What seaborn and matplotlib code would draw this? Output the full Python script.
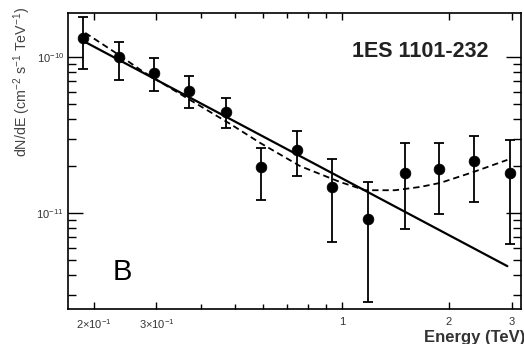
import numpy as np
import matplotlib
matplotlib.use("Agg")
import matplotlib.pyplot as plt
import seaborn as sns
from matplotlib.ticker import FixedLocator, FixedFormatter, NullFormatter

# ---- data ----
energy = [0.186, 0.235, 0.295, 0.371, 0.471, 0.591, 0.747, 0.937, 1.18, 1.50, 1.88, 2.35, 2.97]
flux = [1.32e-10, 1.0e-10, 7.9e-11, 6.05e-11, 4.44e-11, 1.97e-11, 2.54e-11,
        1.47e-11, 9.2e-12, 1.80e-11, 1.91e-11, 2.16e-11, 1.80e-11]
flux_hi = [1.80e-10, 1.25e-10, 9.9e-11, 7.55e-11, 5.46e-11, 2.61e-11, 3.36e-11,
           2.22e-11, 1.58e-11, 2.81e-11, 2.81e-11, 3.12e-11, 2.94e-11]
flux_lo = [8.4e-11, 7.1e-11, 6.05e-11, 4.7e-11, 3.5e-11, 1.21e-11, 1.73e-11,
           6.5e-12, 2.7e-12, 7.9e-12, 9.9e-12, 1.18e-11, 6.3e-12]

# power-law fit (solid line) end points
fit_energy = [0.183, 2.92]
fit_flux = [1.294e-10, 4.57e-12]

# dashed model curve
model_energy = [0.189, 0.235, 0.273, 0.373, 0.484, 0.588, 0.761, 0.987,
                1.161, 1.41, 1.66, 1.89, 2.34, 2.92]
model_flux = [1.425e-10, 1.03e-10, 8.13e-11, 5.30e-11, 3.72e-11, 2.81e-11, 2.00e-11,
              1.58e-11, 1.40e-11, 1.40e-11, 1.47e-11, 1.56e-11, 1.83e-11, 2.19e-11]

xtick_vals = [0.2, 0.3, 1, 2, 3]
xtick_labels = [r"$2{\times}10^{-1}$", r"$3{\times}10^{-1}$", "1", "2", "3"]
xminor_vals = [0.4, 0.5, 0.6, 0.7, 0.8, 0.9]
ytick_vals = [1e-11, 1e-10]
ytick_labels = [r"$10^{-11}$", r"$10^{-10}$"]
yminor_vals = [3e-12, 4e-12, 5e-12, 6e-12, 7e-12, 8e-12, 9e-12,
               2e-11, 3e-11, 4e-11, 5e-11, 6e-11, 7e-11, 8e-11, 9e-11]

sns.set_style("ticks")
plt.rcParams["font.family"] = ["Liberation Sans", "DejaVu Sans"]
plt.rcParams["mathtext.default"] = "regular"

W, H = 524, 344
fig = plt.figure(figsize=(W / 100, H / 100), dpi=100)
ax = fig.add_axes([68 / W, 35 / H, 453 / W, 296 / H])
ax.set_xscale("log")
ax.set_yscale("log")

sns.lineplot(x=fit_energy, y=fit_flux, ax=ax, color="black", lw=1.6, zorder=3)
sns.lineplot(x=model_energy, y=model_flux, ax=ax, color="black", lw=1.3,
             linestyle=(0, (3.5, 2.2)), zorder=3)

f = np.array(flux)
ax.errorbar(energy, flux, yerr=[f - np.array(flux_lo), np.array(flux_hi) - f],
            fmt="none", ecolor="black", elinewidth=1.3, capsize=3.5, capthick=1.3, zorder=4)
sns.scatterplot(x=energy, y=flux, ax=ax, color="black", s=60, edgecolor="black",
                linewidth=0.5, zorder=5)

ax.set_xlim(0.169, 3.19)
ax.set_ylim(2.43e-12, 1.91e-10)

ax.xaxis.set_major_locator(FixedLocator(xtick_vals))
ax.xaxis.set_major_formatter(FixedFormatter(xtick_labels))
ax.xaxis.set_minor_locator(FixedLocator(xminor_vals))
ax.xaxis.set_minor_formatter(NullFormatter())
ax.yaxis.set_major_locator(FixedLocator(ytick_vals))
ax.yaxis.set_major_formatter(FixedFormatter(ytick_labels))
ax.yaxis.set_minor_locator(FixedLocator(yminor_vals))
ax.yaxis.set_minor_formatter(NullFormatter())

ax.tick_params(which="both", direction="in", top=True, right=True, color="black", width=1.0)
ax.tick_params(axis="y", which="major", length=11, labelsize=8, labelcolor="#333", pad=3)
ax.tick_params(axis="y", which="minor", length=6)
ax.tick_params(axis="x", which="major", length=5, labelsize=8, labelcolor="#333", pad=6)
ax.tick_params(axis="x", which="minor", length=3.5)
for sp in ax.spines.values():
    sp.set_linewidth(1.2)
    sp.set_color("black")
ax.set_xlabel("")
ax.set_ylabel("")

fig.text(420 / W, 1 - 57 / H, "1ES 1101-232", ha="center", va="baseline",
         fontsize=15.5, fontweight="bold", color="#222")
fig.text(122.5 / W, 1 - 280 / H, "B", ha="center", va="baseline",
         fontsize=21, color="black")
fig.text(525 / W, 1 - 342 / H, "Energy (TeV)", ha="right", va="baseline",
         fontsize=12, fontweight="bold", color="#333")
fig.text(22 / W, 1 - 7 / H, r"dN/dE (cm$^{-2}$ s$^{-1}$ TeV$^{-1}$)", rotation=90,
         ha="center", va="top", fontsize=10.3, color="#444")

fig.savefig("out.png", dpi=100)
